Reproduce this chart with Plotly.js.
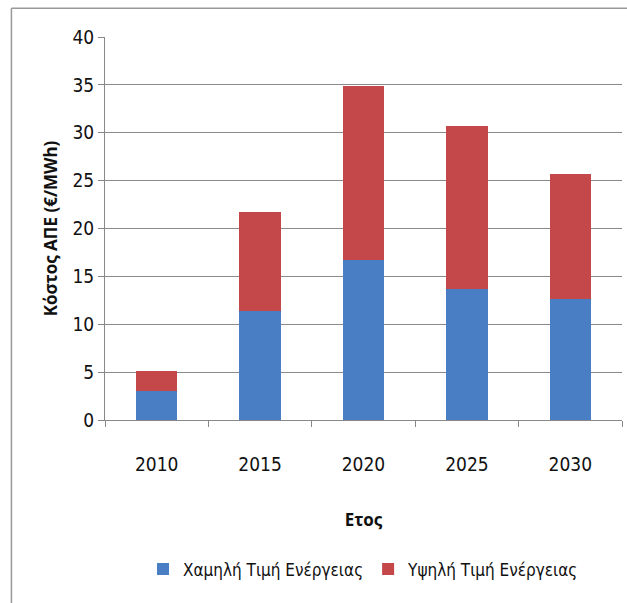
<!DOCTYPE html>
<html>
<head>
<meta charset="utf-8">
<script src="https://cdn.plot.ly/plotly-3.0.1.min.js"></script>
<style>html,body{margin:0;padding:0;background:#fff;}#chart{width:627px;height:603px;}</style>
</head>
<body>
<div id="chart"></div>
<script>
var years = ['2010', '2015', '2020', '2025', '2030'];
var lowPrice = [3.0, 11.4, 16.7, 13.7, 12.6];
var highPrice = [2.1, 10.3, 18.2, 17.0, 13.1];
var seriesNames = ['Χαμηλή Τιμή Ενέργειας', 'Υψηλή Τιμή Ενέργειας'];
var yTicks = [0, 5, 10, 15, 20, 25, 30, 35, 40];

var narrow = 'DejaVu Sans Condensed, Liberation Sans Narrow, sans-serif';

var data = [
  {type: 'bar', x: years, y: lowPrice, name: seriesNames[0], marker: {color: '#4a7ec4'}},
  {type: 'bar', x: years, y: highPrice, name: seriesNames[1], marker: {color: '#c4484a'}}
];

var layout = {
  width: 627, height: 603,
  margin: {l: 105, r: 5, t: 37, b: 183},
  barmode: 'stack',
  bargap: 0.6,
  paper_bgcolor: '#ffffff',
  plot_bgcolor: '#ffffff',
  showlegend: true,
  legend: {orientation: 'h', x: 0.5, xanchor: 'center', y: -0.39, yanchor: 'middle',
           font: {family: narrow, size: 17, color: '#111'}, traceorder: 'normal', itemwidth: 30},
  xaxis: {
    type: 'category',
    showgrid: false,
    showline: true, linecolor: '#888', linewidth: 1,
    ticks: 'outside', ticklen: 6, tickcolor: '#888', tickson: 'boundaries',
    ticklabelstandoff: 27,
    tickfont: {family: narrow, size: 19, color: '#111'},
    title: {text: 'Ετος', font: {family: 'Open Sans, DejaVu Sans, sans-serif', size: 17, color: '#111', weight: 'bold'}, standoff: 40}
  },
  yaxis: {
    range: [0, 40],
    tickvals: yTicks,
    showgrid: true, gridcolor: '#8a8a8a', gridwidth: 1,
    showline: true, linecolor: '#888', linewidth: 1,
    ticks: 'outside', ticklen: 6, tickcolor: '#888',
    zeroline: false,
    tickfont: {family: narrow, size: 19, color: '#111'},
    title: {text: 'Κόστος ΑΠΕ (€/MWh)', font: {family: 'Open Sans, DejaVu Sans, sans-serif', size: 17, color: '#111', weight: 'bold'}, standoff: 10}
  },
  shapes: [
    {type: 'line', xref: 'paper', yref: 'paper', x0: -0.181, x1: -0.181, y0: 1.075, y1: -0.48, line: {color: '#999', width: 1.5}},
    {type: 'line', xref: 'paper', yref: 'paper', x0: -0.181, x1: 1.01, y0: 1.075, y1: 1.075, line: {color: '#999', width: 1.5}}
  ]
};

Plotly.newPlot('chart', data, layout, {displayModeBar: false, staticPlot: true});
</script>
</body>
</html>
